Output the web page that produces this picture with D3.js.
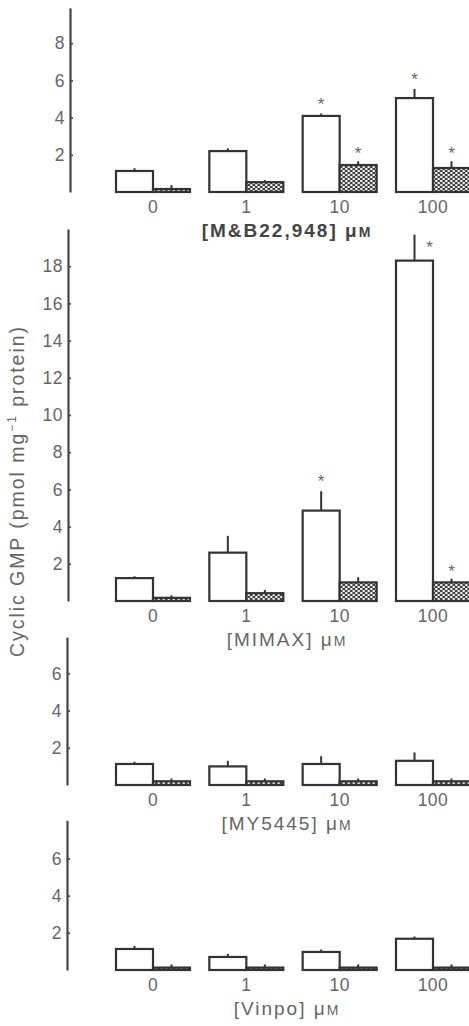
<!DOCTYPE html>
<html>
<head>
<meta charset="utf-8">
<script src="https://cdn.jsdelivr.net/npm/d3@7"></script>
<style>
  html, body { margin: 0; padding: 0; background: #fff; }
  svg { display: block; }
  text { font-family: "Liberation Sans", Arial, sans-serif; }
</style>
</head>
<body>
<svg id="chart" width="469" height="1026"></svg>
<script>
// ---- data ----
const categories = ["0", "1", "10", "100"];

const titles = ["[M&B22,948]", "[MIMAX]", "[MY5445]", "[Vinpo]"];

// control (open bars) means and error-bar tips
const openMeans = [
  [1.13, 2.2, 4.09, 5.05],
  [1.23, 2.6, 4.86, 18.3],
  [1.13, 1.0, 1.13, 1.3],
  [1.13, 0.7, 0.97, 1.68]
];
const openTips = [
  [1.28, 2.35, 4.22, 5.54],
  [1.33, 3.5, 5.9, 19.7],
  [1.25, 1.3, 1.55, 1.75],
  [1.3, 0.87, 1.1, 1.8]
];
// hatched bars means and error-bar tips
const hatchMeans = [
  [0.16, 0.53, 1.45, 1.29],
  [0.17, 0.42, 1.0, 1.0],
  [0.2, 0.2, 0.2, 0.2],
  [0.13, 0.13, 0.13, 0.13]
];
const hatchTips = [
  [0.37, 0.64, 1.65, 1.65],
  [0.3, 0.6, 1.28, 1.2],
  [0.35, 0.35, 0.35, 0.35],
  [0.3, 0.3, 0.3, 0.3]
];
// significance stars
const openStars = [
  [0, 0, 1, 1],
  [0, 0, 1, 1],
  [0, 0, 0, 0],
  [0, 0, 0, 0]
];
const hatchStars = [
  [0, 0, 1, 1],
  [0, 0, 0, 1],
  [0, 0, 0, 0],
  [0, 0, 0, 0]
];
// y-axis domain tops and tick values
const domainTops = [9.9, 20.0, 7.95, 8.05];
const tickValues = [
  [2, 4, 6, 8],
  [2, 4, 6, 8, 10, 12, 14, 16, 18],
  [2, 4, 6],
  [2, 4, 6]
];
const yTitle = "Cyclic GMP (pmol mg";

// ---- layout ----
const baselines = [192, 601, 785, 970];
const axisX = [70, 68, 67, 67];
const titleBold = [true, false, false, false];
const barW = 37;
const lineCol = "#333";
const textCol = "#666";

const svg = d3.select("#chart");

// hatch pattern
const defs = svg.append("defs");
const pat = defs.append("pattern")
  .attr("id", "hatch").attr("patternUnits", "userSpaceOnUse")
  .attr("width", 5).attr("height", 4);
pat.append("rect").attr("width", 5).attr("height", 4).attr("fill", "#444");
pat.append("ellipse").attr("cx", 1.25).attr("cy", 1).attr("rx", 1.4).attr("ry", 1.0).attr("fill", "#fff");
pat.append("ellipse").attr("cx", 3.75).attr("cy", 3).attr("rx", 1.4).attr("ry", 1.0).attr("fill", "#fff");

const x = d3.scalePoint().domain(categories).range([153, 433]);

titles.forEach((title, p) => {
  const base = baselines[p];
  const top = base - domainTops[p] * 18.6;
  const y = d3.scaleLinear().domain([0, domainTops[p]]).range([base, top]);
  const g = svg.append("g");

  // axis
  const axis = d3.axisLeft(y).tickValues(tickValues[p])
    .tickSizeInner(-3).tickSizeOuter(0).tickPadding(5)
    .tickFormat(d3.format("d"));
  const ag = g.append("g").attr("transform", `translate(${axisX[p]},0)`).call(axis);
  ag.select(".domain").attr("stroke", "#444").attr("stroke-width", 2.2);
  ag.selectAll(".tick line").attr("stroke", "#444").attr("stroke-width", 1.6);
  ag.selectAll(".tick text").attr("fill", textCol).attr("font-size", 17.5)
    .attr("font-family", "'Liberation Sans', Arial, sans-serif")
    .attr("letter-spacing", 0.5);

  const rows = categories.map((c, i) => ({
    c, om: openMeans[p][i], ot: openTips[p][i], hm: hatchMeans[p][i], ht: hatchTips[p][i],
    os: openStars[p][i], hs: hatchStars[p][i]
  }));

  // error bars
  rows.forEach(r => {
    const cx = x(r.c);
    g.append("line").attr("x1", cx - barW / 2).attr("x2", cx - barW / 2)
      .attr("y1", y(r.om)).attr("y2", y(r.ot)).attr("stroke", lineCol).attr("stroke-width", 2);
    g.append("line").attr("x1", cx + barW / 2).attr("x2", cx + barW / 2)
      .attr("y1", y(r.hm)).attr("y2", y(r.ht)).attr("stroke", lineCol).attr("stroke-width", 2);
  });

  // open bars
  g.selectAll(".open").data(rows).join("rect")
    .attr("x", d => x(d.c) - barW).attr("width", barW)
    .attr("y", d => y(d.om)).attr("height", d => base - y(d.om))
    .attr("fill", "#fff").attr("stroke", lineCol).attr("stroke-width", 2.2);
  // hatched bars
  g.selectAll(".hatch").data(rows).join("rect")
    .attr("x", d => x(d.c)).attr("width", barW)
    .attr("y", d => y(d.hm)).attr("height", d => base - y(d.hm))
    .attr("fill", "url(#hatch)").attr("stroke", lineCol).attr("stroke-width", 2.2);

  // stars
  rows.forEach(r => {
    const cx = x(r.c);
    if (r.os) {
      let sy = y(r.ot) - 4, sx = cx - barW / 2;
      if (y(r.ot) - 16 < top) { sy = y(r.ot) + 18; sx = cx - barW / 2 + 15; }
      g.append("text").attr("x", sx).attr("y", sy).attr("text-anchor", "middle")
        .attr("font-size", 17).attr("fill", textCol).text("*");
    }
    if (r.hs) {
      g.append("text").attr("x", cx + barW / 2).attr("y", y(r.ht) - 2).attr("text-anchor", "middle")
        .attr("font-size", 17).attr("fill", textCol).text("*");
    }
  });

  // category labels
  g.selectAll(".cat").data(categories).join("text")
    .attr("x", d => x(d)).attr("y", base + 21).attr("text-anchor", "middle")
    .attr("font-size", 17.5).attr("letter-spacing", 0.5).attr("fill", textCol).text(d => d);

  // panel title
  const t = g.append("text").attr("x", 287).attr("y", base + 45).attr("text-anchor", "middle")
    .attr("font-size", 19).attr("letter-spacing", 2)
    .attr("fill", titleBold[p] ? "#444" : textCol)
    .attr("font-weight", titleBold[p] ? "bold" : "normal");
  t.append("tspan").text(title + " \u03bc");
  t.append("tspan").attr("font-size", 14).text("M");
});

// y-axis title
const yt = svg.append("text")
  .attr("transform", "translate(24,492) rotate(-90)")
  .attr("text-anchor", "middle").attr("font-size", 19.5).attr("fill", textCol)
  .attr("textLength", 330).attr("lengthAdjust", "spacing");
yt.append("tspan").text(yTitle);
yt.append("tspan").attr("font-size", 12).attr("dy", -8).text("\u22121");
yt.append("tspan").attr("dy", 8).text(" protein)");
</script>
</body>
</html>
